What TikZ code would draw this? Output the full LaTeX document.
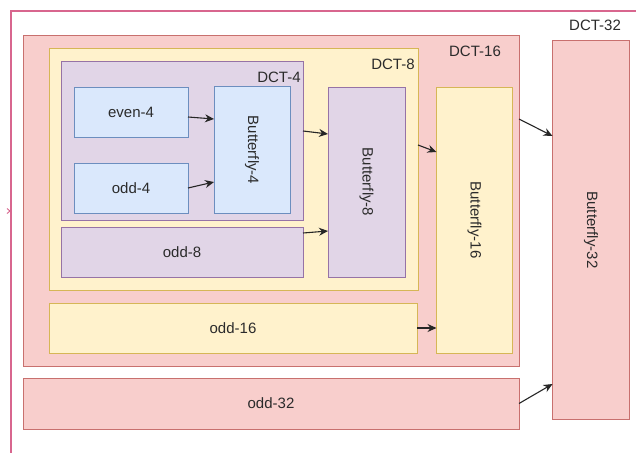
\documentclass[tikz,border=0pt]{standalone}
\usepackage{fontspec}
\setmainfont{Liberation Sans}
\usetikzlibrary{arrows.meta}
\definecolor{pinkF}{HTML}{F8CECC}
\definecolor{pinkD}{HTML}{C8706E}
\definecolor{outerD}{HTML}{D8668E}
\definecolor{yelF}{HTML}{FFF2CC}
\definecolor{yelD}{HTML}{D6B656}
\definecolor{purF}{HTML}{E1D5E7}
\definecolor{purD}{HTML}{9673A6}
\definecolor{bluF}{HTML}{DAE8FC}
\definecolor{bluD}{HTML}{6C8EBF}
\definecolor{txt}{HTML}{2B2B2B}
\begin{document}
\begin{tikzpicture}[x=1pt,y=-1pt,
  font=\fontsize{15}{18}\selectfont,
  box/.style={draw, rectangle, inner sep=0pt, outer sep=0pt, text=txt, line width=1pt},
  pinkbox/.style={box, fill=pinkF, draw=pinkD},
  yelbox/.style={box, fill=yelF, draw=yelD},
  purbox/.style={box, fill=purF, draw=purD},
  blubox/.style={box, fill=bluF, draw=bluD},
  lbl/.style={inner sep=0pt, text=txt},
  arr/.style={draw=black!85, line width=1.1pt, -{Stealth[length=9pt,width=8pt]}}
]
\clip (0,0) rectangle (636,452);
\fill[white] (0,0) rectangle (636,452);
% outer DCT-32 container
\draw[draw=outerD, line width=1.3pt] (11,11) rectangle (660,480);
\coordinate (mk) at (9,211);
\draw[draw=outerD, line width=0.9pt] ([xshift=-2pt,yshift=2.5pt]mk) -- ([xshift=1pt]mk) -- ([xshift=-2pt,yshift=-2.5pt]mk);
\node[lbl] (l32) at (595,25) {DCT-32};

% DCT-16 container
\node[pinkbox, minimum width=496, minimum height=330] (dct16) at (271,201) {};
\node[lbl] (l16) at (475,51) {DCT-16};
% DCT-8 container
\node[yelbox, minimum width=369, minimum height=241] (dct8) at (233.5,169.5) {};
\node[lbl] (l8) at (393,64) {DCT-8};
% DCT-4 container
\node[purbox, minimum width=242, minimum height=159] (dct4) at (182,140.5) {};
\node[lbl] (l4) at (279,77) {DCT-4};

% leaf blocks
\node[blubox, minimum width=114, minimum height=50] (even4) at (131,112) {even-4};
\node[blubox, minimum width=114, minimum height=50] (odd4) at (131,188) {odd-4};
\node[blubox, minimum width=76, minimum height=127] (bf4) at (252,150) {\rotatebox{-90}{Butterfly-4}};
\node[purbox, minimum width=242, minimum height=50] (odd8) at (182,252) {odd-8};
\node[purbox, minimum width=77, minimum height=190] (bf8) at (366.5,182) {\rotatebox{-90}{Butterfly-8}};
\node[yelbox, minimum width=368, minimum height=50] (odd16) at (233,328) {odd-16};
\node[yelbox, minimum width=76, minimum height=266] (bf16) at (474.5,220) {\rotatebox{-90}{Butterfly-16}};
\node[pinkbox, minimum width=496, minimum height=51] (odd32) at (271,403.5) {odd-32};
\node[pinkbox, minimum width=77, minimum height=378] (bf32) at (591,230) {\rotatebox{-90}{Butterfly-32}};

% connectors
\draw[arr] ([yshift=-5pt]even4.east) -- ([yshift=31pt]bf4.west);
\draw[arr] (odd4.east) -- ([yshift=-32pt]bf4.west);
\draw[arr] ([yshift=9.5pt]dct4.east) -- ([yshift=48pt]bf8.west);
\draw[arr] ([yshift=19pt]odd8.east) -- ([yshift=-49pt]bf8.west);
\draw[arr] ([yshift=24.5pt]dct8.east) -- ([yshift=68pt]bf16.west);
\draw[arr] (odd16.east) -- ([yshift=-108pt]bf16.west);
\draw[arr] ([yshift=82pt]dct16.east) -- ([yshift=94pt]bf32.west);
\draw[arr] (odd32.east) -- ([yshift=-154pt]bf32.west);
\end{tikzpicture}
\end{document}
